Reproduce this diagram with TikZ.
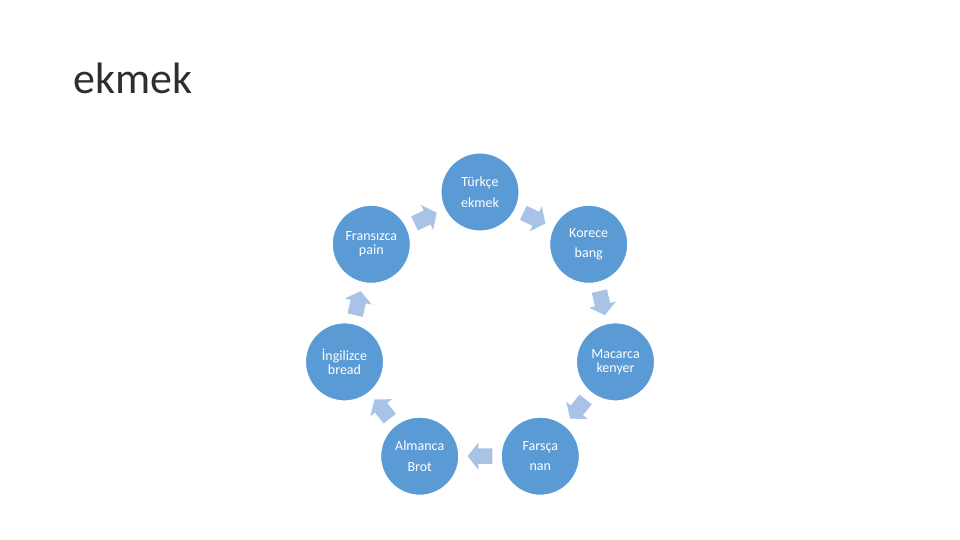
\documentclass[tikz,border=0pt]{standalone}
\usepackage{fontspec}
\setmainfont{Carlito}
\usetikzlibrary{calc}
\definecolor{circfill}{HTML}{5B9BD5}
\definecolor{arrfill}{HTML}{A9C3E6}
\begin{document}
\begin{tikzpicture}[x=1pt,y=1pt,
  cyclenode/.style={circle, fill=circfill, draw=white, line width=1pt,
    minimum size=78pt, inner sep=0pt, text=white, align=center,
    font=\fontsize{14}{20.5}\selectfont},
  tightnode/.style={cyclenode, font=\fontsize{14}{14.5}\selectfont},
  blockarrow/.style={fill=arrfill}]
\useasboundingbox (0,0) rectangle (960,540);
\node[anchor=base west, font=\fontsize{44}{48}\selectfont, text=black!82, inner sep=0pt] (title) at (73,446.7) {ekmek};
\node[cyclenode] (tr) at (480,348) {Türkçe\\ekmek};
\node[cyclenode] (ko) at (588.7,295.7) {Korece\\bang};
\node[tightnode] (ma) at (615.5,178.1) {Macarca\\kenyer};
\node[cyclenode] (fa) at (540.3,83.8) {Farsça\\nan};
\node[cyclenode] (al) at (419.7,83.8) {Almanca\\Brot};
\node[tightnode] (ing) at (344.5,178.1) {İngilizce\\bread};
\node[tightnode] (fr) at (371.3,295.7) {Fransızca\\pain};
\foreach \a/\b/\r in {tr/ko/-25.71, ko/ma/-77.14, ma/fa/-128.57, fa/al/180, al/ing/128.57, ing/fr/77.14, fr/tr/25.71}
  \fill[blockarrow, shift={($(\a)!0.5!(\b)$)}, rotate=\r]
    (-12.3,-7.8) -- (1.6,-7.8) -- (1.6,-13.8) -- (12.3,0) -- (1.6,13.8) -- (1.6,7.8) -- (-12.3,7.8) -- cycle;
\end{tikzpicture}
\end{document}
